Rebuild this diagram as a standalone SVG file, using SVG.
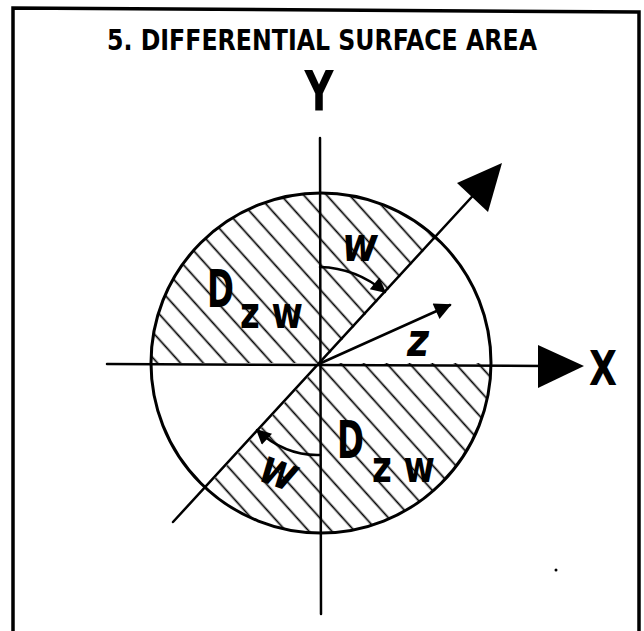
<svg xmlns="http://www.w3.org/2000/svg" width="644" height="631" viewBox="0 0 644 631">
<style>
.ln{stroke:#000;fill:none;stroke-linecap:round}
.ax{stroke-width:2.5}
.t{font-family:"DejaVu Sans Condensed","DejaVu Sans",sans-serif;font-weight:bold;fill:#000}
.ti{font-family:"DejaVu Sans Condensed","DejaVu Sans",sans-serif;font-weight:bold;font-style:italic;fill:#000}
</style>
<defs>
<pattern id="hatch" width="17" height="17" patternUnits="userSpaceOnUse" patternTransform="rotate(48 321 363)">
<line x1="-2" y1="8.5" x2="19" y2="8.5" stroke="#000" stroke-width="1.7"/>
</pattern>
<marker id="ah" viewBox="0 0 10 10" refX="9" refY="5" markerWidth="24" markerHeight="15" markerUnits="userSpaceOnUse" orient="auto">
<path d="M0,0 L10,5 L0,10 Z" fill="#000"/>
</marker>
<marker id="ahz" viewBox="0 0 10 10" refX="9" refY="5" markerWidth="26" markerHeight="17" markerUnits="userSpaceOnUse" orient="auto">
<path d="M0,0 L10,5 L0,10 Z" fill="#000"/>
</marker>
</defs>
<rect width="644" height="631" fill="#fff"/>
<g id="frame">
<path class="ln" d="M13,631 V8 L639,12 V631" stroke-width="3.5" stroke-linecap="butt"/>
</g>
<g id="title">
<text class="t" x="322" y="50" font-size="29" text-anchor="middle" textLength="430" lengthAdjust="spacingAndGlyphs">5. DIFFERENTIAL SURFACE AREA</text>
</g>
<g id="regions">
<path id="upper-region" d="M321,363 L435.9,237.7 A170,170 0 0 0 151,363 Z" fill="url(#hatch)"/>
<path id="lower-region" d="M321,363 L206.1,488.3 A170,170 0 0 0 491,363 Z" fill="url(#hatch)"/>
</g>
<g id="circle">
<circle cx="321" cy="363" r="170" class="ln" stroke-width="3"/>
</g>
<g id="connectors">
<line id="y-axis" class="ln ax" x1="320" y1="138" x2="321" y2="614"/>
<line id="x-axis" class="ln ax" x1="107" y1="364" x2="545" y2="366"/>
<polygon points="538,345 538,388 584,366" fill="#000"/>
<line id="diag-axis" class="ln ax" x1="173" y1="522" x2="480" y2="188"/>
<polygon points="502,163 457,183 488,212" fill="#000"/>
<line id="z-vector" class="ln ax" x1="321" y1="363" x2="450" y2="305" marker-end="url(#ahz)"/>
<path id="w-arc-upper" class="ln" stroke-width="2.5" d="M320,267 Q356,268 385,292" marker-end="url(#ah)"/>
<path id="w-arc-lower" class="ln" stroke-width="2.5" d="M320,455 Q285,456 257,430" marker-end="url(#ah)"/>
</g>
<g id="labels">
<text id="label-y" class="t" x="319" y="110" font-size="56" text-anchor="middle" textLength="29" lengthAdjust="spacingAndGlyphs">Y</text>
<text id="label-x" class="t" x="603" y="385" font-size="48" text-anchor="middle" textLength="28" lengthAdjust="spacingAndGlyphs">X</text>
<text id="label-z" class="ti" x="418" y="356" font-size="46" text-anchor="middle" textLength="22" lengthAdjust="spacingAndGlyphs">z</text>
<text id="label-w-upper" class="ti" x="360" y="261" font-size="48" text-anchor="middle" textLength="36" lengthAdjust="spacingAndGlyphs">w</text>
<text id="label-w-lower" class="ti" x="0" y="0" font-size="48" text-anchor="middle" textLength="37" lengthAdjust="spacingAndGlyphs" transform="translate(274,486) rotate(20)">w</text>
<g id="label-dzw-upper">
<text class="t" x="207" y="307" font-size="51" textLength="27" lengthAdjust="spacingAndGlyphs">D</text>
<text class="t" x="240" y="328" font-size="44" textLength="63" lengthAdjust="spacingAndGlyphs">z w</text>
</g>
<g id="label-dzw-lower">
<text class="t" x="337" y="458" font-size="51" textLength="27" lengthAdjust="spacingAndGlyphs">D</text>
<text class="t" x="372" y="482" font-size="44" textLength="63" lengthAdjust="spacingAndGlyphs">z w</text>
</g>
</g>
<circle cx="556" cy="570" r="1.5" fill="#000"/>
</svg>
